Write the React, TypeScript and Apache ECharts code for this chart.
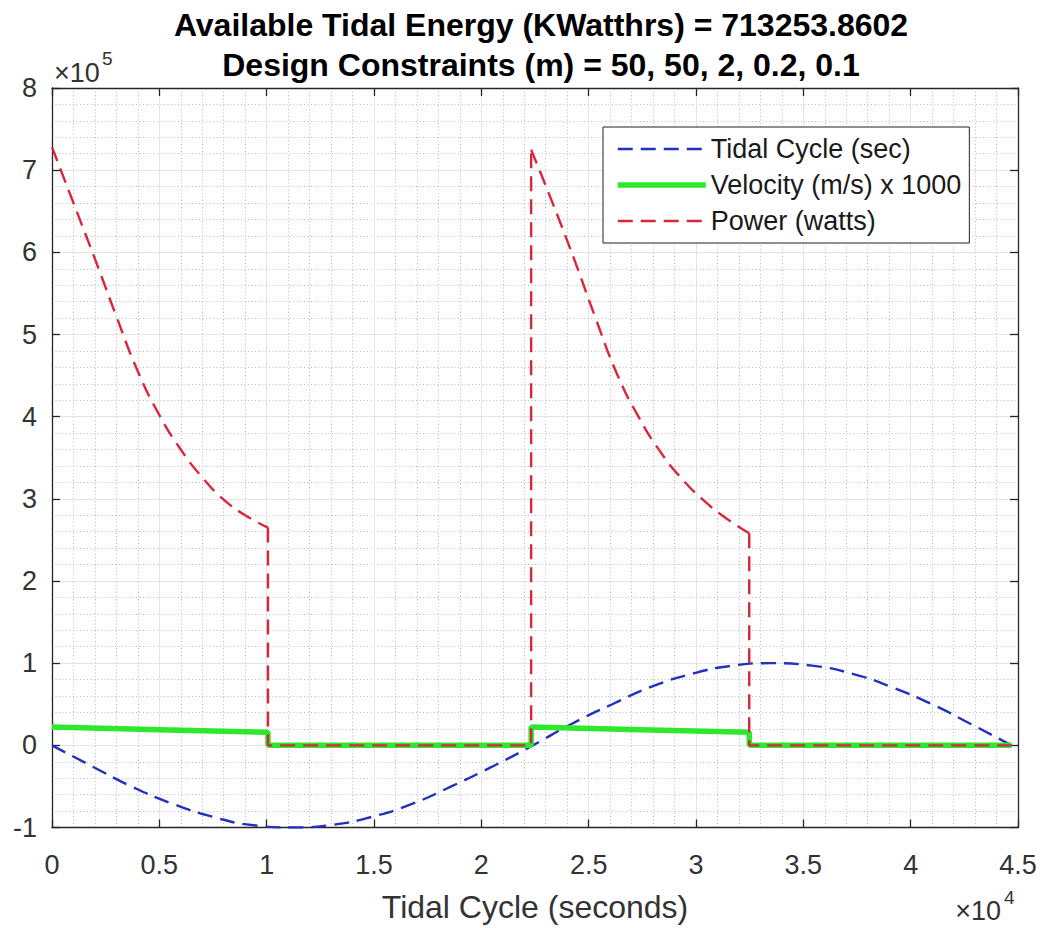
import React, { useEffect, useRef } from 'react';
import * as echarts from 'echarts';

const xTickLabels = ['0', '0.5', '1', '1.5', '2', '2.5', '3', '3.5', '4', '4.5'];
const yTickLabels = ['-1', '0', '1', '2', '3', '4', '5', '6', '7', '8'];

// Tidal cycle (sec) curve
const tidalT = [0, 1900, 3700, 5600, 7500, 9300, 11200, 13000, 14900, 16800, 18600, 20500, 22400, 24200, 26100, 27900, 29800, 31700, 33500, 35400, 37300, 39100, 41000, 42800, 44700];
const tidalV = [0, -26000, -50000, -71000, -87000, -97000, -100000, -97000, -87000, -71000, -50000, -26000, 0, 26000, 50000, 71000, 87000, 97000, 100000, 97000, 87000, 71000, 50000, 26000, 0];

// Velocity (m/s) x 1000
const velT = [0, 5000, 10060, 10060, 22320, 22320, 27400, 32480, 32480, 44700];
const velV = [22300, 19100, 15800, 0, 0, 22300, 19100, 15800, 0, 0];

// Power (watts): first ebb curve, second flood curve, zero between
const power1T = [0, 1000, 2000, 3000, 4000, 5000, 6000, 7000, 8000, 9000, 10060];
const power1V = [728000, 660000, 592000, 522000, 455000, 402000, 360000, 326000, 299000, 280000, 265000];
const power2T = [22320, 23320, 24320, 25320, 26320, 27320, 28320, 29320, 30320, 31320, 32480];
const power2V = [725000, 660000, 592000, 520000, 452000, 400000, 358000, 325000, 299000, 278000, 258000];
const powerZeroT = [10060, 22320, 32480, 44700];

const FONT = '"Liberation Sans", Arial, Helvetica, sans-serif';
const BLUE = '#2230c0';
const GREEN = '#2ee82e';
const RED = '#d9263a';
const TIDAL = 'Tidal Cycle (sec)';
const VEL = 'Velocity (m/s) x 1000';
const POWER = 'Power (watts)';

export default function App() {
  const ref = useRef<HTMLDivElement>(null);
  useEffect(() => {
    document.body.style.margin = '0';
    const chart = echarts.init(ref.current!, null, { renderer: 'svg' });
    const axisLine = { show: true, onZero: false, lineStyle: { color: '#262626', width: 1.3 } };
    const axisTick = { show: true, inside: true, length: 8, lineStyle: { color: '#262626', width: 1.3 } };
    const minorSplit = { show: true, lineStyle: { color: '#b8b8b8', width: 1, type: [1, 2.5] } };
    const majorSplit = { show: true, lineStyle: { color: '#e4e4e4', width: 1, type: 'solid' } };
    const redStyle = { color: RED, width: 2.4, type: [15, 8] };
    const p1 = power1T.map((t, i) => [t, power1V[i]]);
    const p2 = power2T.map((t, i) => [t, power2V[i]]);
    const stepA = [p1[p1.length - 1], [powerZeroT[0], 0], [powerZeroT[1], 0], p2[0]];
    const stepB = [p2[p2.length - 1], [powerZeroT[2], 0], [powerZeroT[3], 0]];
    chart.setOption({
      animation: false,
      backgroundColor: '#ffffff',
      textStyle: { fontFamily: FONT },
      title: {
        text: 'Available Tidal Energy (KWatthrs) = 713253.8602\nDesign Constraints (m) = 50, 50, 2, 0.2, 0.1',
        left: 536,
        textAlign: 'center',
        top: 0,
        textStyle: { fontFamily: FONT, fontSize: 32, fontWeight: 'bold', lineHeight: 40, color: '#000' },
      },
      grid: { left: 52, right: 27, top: 88, bottom: 100.5, outerBoundsMode: 'none' },
      legend: {
        orient: 'vertical',
        left: 603,
        top: 127,
        itemWidth: 88,
        itemHeight: 14,
        itemGap: 8,
        padding: [8, 8, 8, 12],
        borderColor: '#222',
        borderWidth: 1,
        backgroundColor: '#fff',
        itemStyle: { opacity: 0 },
        textStyle: { fontFamily: FONT, fontSize: 27, lineHeight: 28, color: '#1a1a1a' },
        data: [
          { name: TIDAL, lineStyle: { width: 2.4 } },
          { name: VEL, lineStyle: { width: 5.5 } },
          { name: POWER, lineStyle: { width: 2.4 } },
        ],
      },
      xAxis: [
        {
          type: 'value', min: 0, max: 45000, interval: 5000,
          name: 'Tidal Cycle (seconds)', nameLocation: 'middle', nameGap: 63,
          nameTextStyle: { fontFamily: FONT, fontSize: 32, color: '#333' },
          axisLine, axisTick,
          axisLabel: { margin: 24, fontSize: 27, color: '#333', fontFamily: FONT, formatter: (_v: number, i: number) => xTickLabels[i] ?? '' },
          splitLine: majorSplit,
          minorTick: { show: false, splitNumber: 5 },
          minorSplitLine: minorSplit,
        },
        {
          type: 'value', position: 'top', min: 0, max: 45000, interval: 5000,
          axisLine, axisTick, axisLabel: { show: false }, splitLine: { show: false },
        },
      ],
      yAxis: [
        {
          type: 'value', min: -100000, max: 800000, interval: 100000,
          axisLine, axisTick,
          axisLabel: { margin: 15, fontSize: 27, color: '#333', fontFamily: FONT, padding: [12, 0, 0, 0], formatter: (_v: number, i: number) => yTickLabels[i] ?? '' },
          splitLine: majorSplit,
          minorTick: { show: false, splitNumber: 5 },
          minorSplitLine: minorSplit,
        },
        {
          type: 'value', position: 'right', min: -100000, max: 800000, interval: 100000,
          axisLine, axisTick, axisLabel: { show: false }, splitLine: { show: false },
        },
      ],
      series: [
        {
          name: TIDAL, type: 'line', xAxisIndex: 0, yAxisIndex: 0,
          data: tidalT.map((t, i) => [t, tidalV[i]]),
          symbol: 'none', smooth: true,
          lineStyle: { color: BLUE, width: 2.4, type: [15, 8] },
          itemStyle: { color: BLUE },
        },
        {
          name: VEL, type: 'line', xAxisIndex: 0, yAxisIndex: 0,
          data: velT.map((t, i) => [t, velV[i]]),
          symbol: 'none',
          lineStyle: { color: GREEN, width: 5.5, type: 'solid' },
          itemStyle: { color: GREEN },
        },
        {
          name: POWER, type: 'line', data: p1, symbol: 'none', smooth: true,
          lineStyle: redStyle, itemStyle: { color: RED },
        },
        {
          name: POWER, type: 'line', data: stepA, symbol: 'none',
          lineStyle: redStyle, itemStyle: { color: RED },
        },
        {
          name: POWER, type: 'line', data: p2, symbol: 'none', smooth: true,
          lineStyle: redStyle, itemStyle: { color: RED },
        },
        {
          name: POWER, type: 'line', data: stepB, symbol: 'none',
          lineStyle: redStyle, itemStyle: { color: RED },
        },
      ],
      graphic: [
        { type: 'text', x: 54, y: 73, style: { text: '×10', fontSize: 27, fontFamily: FONT, fill: '#333', textVerticalAlign: 'middle' } },
        { type: 'text', x: 102, y: 58, style: { text: '5', fontSize: 19, fontFamily: FONT, fill: '#333', textVerticalAlign: 'middle' } },
        { type: 'text', x: 1001, y: 911, style: { text: '×10', fontSize: 27, fontFamily: FONT, fill: '#333', textAlign: 'right', textVerticalAlign: 'middle' } },
        { type: 'text', x: 1004, y: 897, style: { text: '4', fontSize: 19, fontFamily: FONT, fill: '#333', textVerticalAlign: 'middle' } },
      ],
    });
    return () => chart.dispose();
  }, []);
  return <div ref={ref} style={{ width: 1045, height: 928 }} />;
}
